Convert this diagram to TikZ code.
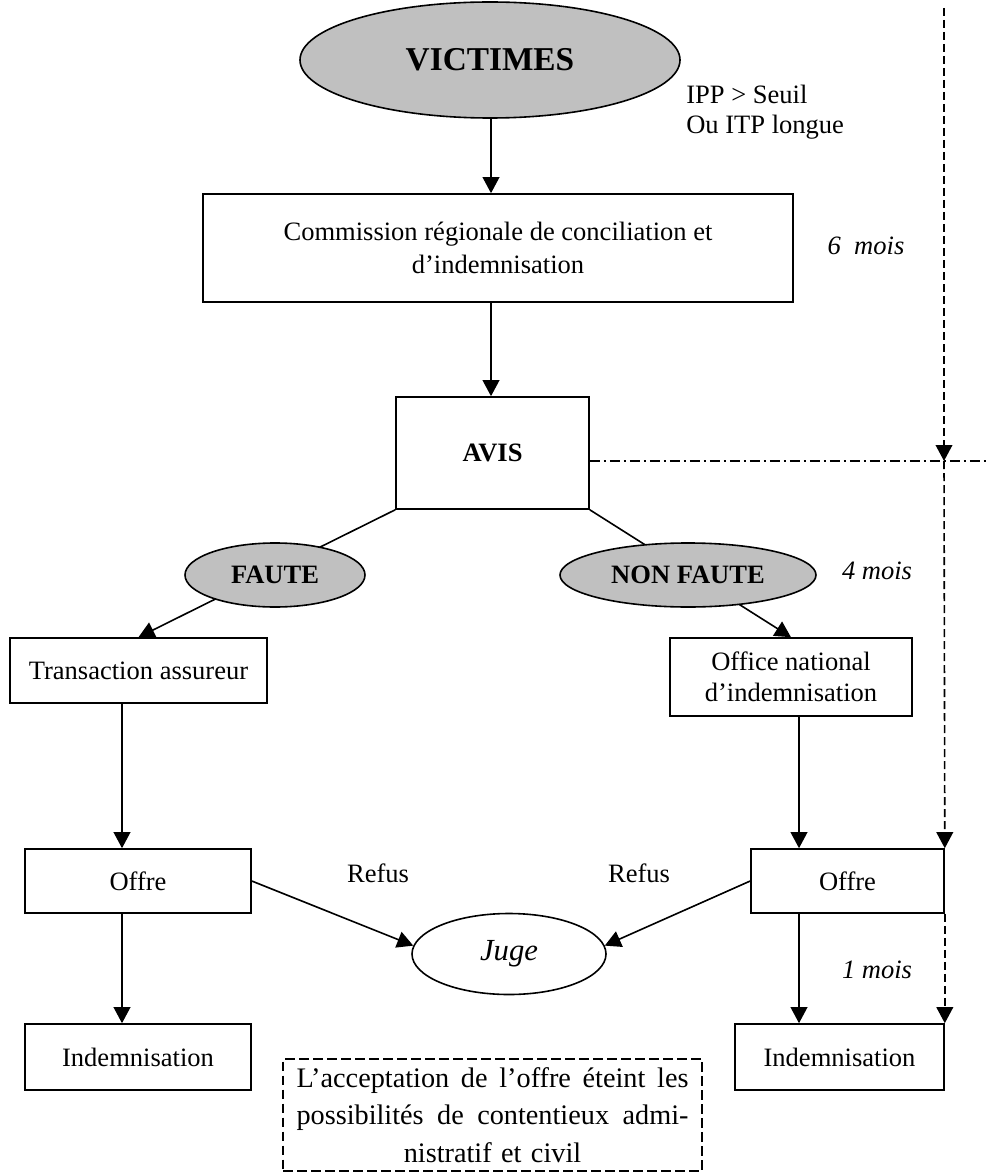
\documentclass[tikz,border=0pt]{standalone}
\usepackage{fontspec}
\setmainfont{Liberation Serif}
\usetikzlibrary{shapes.geometric,arrows.meta,backgrounds}
\definecolor{fillgray}{HTML}{C0C0C0}
\newcommand\jsp{\hskip 0.25em plus 1fil\relax}
\begin{document}
\begin{tikzpicture}[x=0.75pt,y=-0.75pt,
  basefont/.style={font=\fontsize{19.9}{23.5}\selectfont},
  box/.style={draw, line width=1.2pt, rectangle, inner sep=0pt, align=center, basefont},
  grayell/.style={draw, ellipse, fill=fillgray, line width=1.2pt, inner sep=0pt, font=\bfseries\fontsize{19.9}{23.5}\selectfont},
  arr/.style={-{Triangle[length=12pt,width=12.5pt]}, line width=1.2pt},
  dashv/.style={line width=1.2pt, dash pattern=on 6pt off 3pt},
  dashdot/.style={line width=1.2pt, dash pattern=on 7.5pt off 3pt on 1.5pt off 3pt},
  lbl/.style={inner sep=0pt, basefont},
  ilbl/.style={inner sep=0pt, font=\itshape\fontsize{19.9}{23.5}\selectfont}]
\useasboundingbox (0,0) rectangle (987,1173);

% coordinates for free ends and columns
\coordinate (dtop) at (944,8);
\coordinate (dd) at (987,461);
\coordinate (colL) at (122,0);
\coordinate (colR) at (799,0);
\coordinate (colM) at (491,0);

% nodes
\node[grayell, minimum width=285pt, minimum height=87pt, font=\bfseries\fontsize{25}{30}\selectfont] (vict) at (490,60) {VICTIMES};
\node[lbl, anchor=west, align=left, font=\fontsize{19.9}{22.5}\selectfont] (ipp) at (686,112) {IPP > Seuil\\Ou ITP longue};
\node[box, minimum width=442.5pt, minimum height=81pt, font=\fontsize{19.9}{25}\selectfont] (comm) at (498,248) {Commission régionale de conciliation et\\d’indemnisation};
\node[ilbl] (six) at (866,246) {6~~mois};
\node[box, minimum width=144.75pt, minimum height=84pt, font=\bfseries\fontsize{19.9}{23.5}\selectfont] (avis) at (492.5,453) {AVIS};
\node[box, minimum width=192.75pt, minimum height=48.75pt] (trans) at (138.5,670.5) {Transaction assureur};
\node[box, minimum width=181.5pt, minimum height=58.5pt] (office) at (791,677) {Office national\\d’indemnisation};
\node[grayell, minimum width=135pt, minimum height=48pt] (faute) at (275,575) {FAUTE};
\node[grayell, minimum width=192pt, minimum height=48pt] (nonfaute) at (688,575) {NON FAUTE};
\node[ilbl] (four) at (877,571) {4 mois};
\node[box, minimum width=169.5pt, minimum height=48pt] (offL) at (138,881) {Offre};
\node[box, minimum width=144.75pt, minimum height=48pt] (offR) at (847.5,881) {Offre};
\node[draw, ellipse, line width=1.2pt, inner sep=0pt, minimum width=145.5pt, minimum height=60.75pt, font=\itshape\fontsize{23}{27}\selectfont] (juge) at (509,954) {Juge};
\node[lbl] (refL) at (378,873) {Refus};
\node[lbl] (refR) at (639,873) {Refus};
\node[ilbl] (one) at (877,970) {1 mois};
\node[box, minimum width=169.5pt, minimum height=49.5pt] (indL) at (138,1057) {Indemnisation};
\node[box, minimum width=156.75pt, minimum height=49.5pt] (indR) at (839.5,1057) {Indemnisation};
\node[draw, line width=1.2pt, dash pattern=on 7pt off 3.5pt, inner sep=0pt, minimum width=314pt, minimum height=84pt, text width=294pt, align=center, font=\fontsize{21.2}{28}\selectfont] (note) at (492.5,1115) {\leavevmode\hbox to 294pt{L’acceptation\jsp de\jsp l’offre\jsp éteint\jsp les}\\\leavevmode\hbox to 294pt{possibilités\jsp de\jsp contentieux\jsp admi-}\\nistratif et civil};

% connectors
\begin{pgfonlayer}{background}
\draw[arr] (avis.south west) -- (trans.north);
\draw[arr] (avis.south east) -- (office.north);
\end{pgfonlayer}
\draw[arr] (vict.south -| colM) -- (comm.north -| colM);
\draw[arr] (comm.south -| colM) -- (avis.north -| colM);
\draw[arr] (trans.south -| colL) -- (offL.north -| colL);
\draw[arr] (offL.south -| colL) -- (indL.north -| colL);
\draw[arr] (office.south -| colR) -- (offR.north -| colR);
\draw[arr] (offR.south -| colR) -- (indR.north -| colR);
\draw[arr] (offL.east) -- (juge.175);
\draw[arr] (offR.west) -- (juge.5);
\draw[dashdot] (avis.east |- dd) -- (dd);
\draw[dashv, arr] (dtop) -- (dtop |- dd);
\draw[dashv, arr] (dtop |- dd) -- (offR.north east);
\draw[dashv, arr] (offR.south east) -- (indR.north east);
\end{tikzpicture}
\end{document}
